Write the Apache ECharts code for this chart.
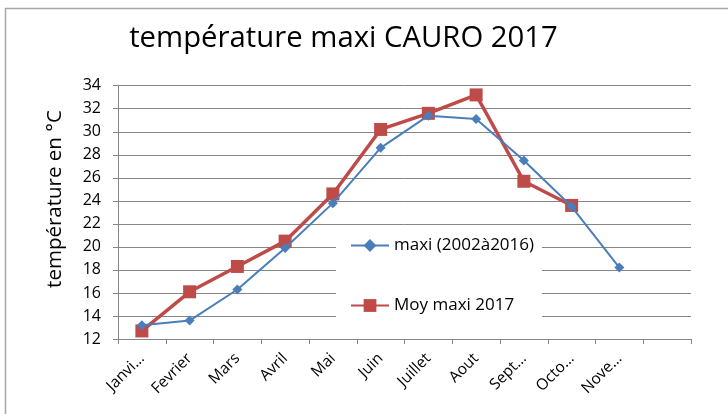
<!DOCTYPE html>
<html>
<head>
<meta charset="utf-8">
<script src="https://cdn.jsdelivr.net/npm/echarts@6/dist/echarts.min.js"></script>
<style>html,body{margin:0;padding:0;background:#fff}#c{width:728px;height:414px}</style>
</head>
<body>
<div id="c"></div>
<script>
var categories = ['Janvi\u2026','Fevrier','Mars','Avril','Mai','Juin','Juillet','Aout','Sept\u2026','Octo\u2026','Nove\u2026',''];
var maxiHist = [13.2, 13.6, 16.3, 19.9, 23.8, 28.6, 31.4, 31.1, 27.5, 23.5, 18.2, null];
var moy2017 = [12.7, 16.1, 18.3, 20.5, 24.6, 30.2, 31.6, 33.2, 25.7, 23.6, null, null];
var yTicks = {min: 12, max: 34, interval: 2};
var seriesNames = ['maxi (2002\u00e02016)', 'Moy maxi 2017'];
var titleText = 'temp\u00e9rature maxi CAURO 2017';
var yName = 'temp\u00e9rature en \u00b0C';

var FONT = '"Open Sans"';
var chart = echarts.init(document.getElementById('c'));
chart.setOption({
  animation: false,
  backgroundColor: '#fff',
  textStyle: {fontFamily: FONT},
  grid: {left: 118, right: 37, top: 85.7, bottom: 75, containLabel: false},
  xAxis: {
    type: 'category',
    data: categories,
    boundaryGap: true,
    axisLine: {lineStyle: {color: '#868686', width: 1}},
    axisTick: {show: true, length: 5, alignWithLabel: false, lineStyle: {color: '#868686'}},
    axisLabel: {rotate: 45, interval: 0, color: '#000', fontSize: 15.5, fontFamily: FONT, margin: 17}
  },
  yAxis: {
    type: 'value',
    min: yTicks.min, max: yTicks.max, interval: yTicks.interval,
    axisLine: {show: true, lineStyle: {color: '#868686', width: 1}},
    axisTick: {show: true, length: 5, lineStyle: {color: '#868686'}},
    axisLabel: {color: '#000', fontSize: 16, fontFamily: FONT, margin: 17},
    splitLine: {show: true, lineStyle: {color: '#868686', width: 1}}
  },
  legend: {
    orient: 'vertical',
    left: 336, top: 231,
    padding: [6, 8, 18, 14],
    itemGap: 43,
    itemWidth: 38, itemHeight: 16,
    backgroundColor: '#fff',
    textStyle: {color: '#000', fontSize: 17, fontFamily: FONT},
    data: seriesNames
  },
  series: [
    {
      name: seriesNames[0], type: 'line', data: maxiHist,
      symbol: 'diamond', symbolSize: 10,
      lineStyle: {color: '#4A7EBB', width: 2},
      itemStyle: {color: '#4A7EBB'},
      z: 3
    },
    {
      name: seriesNames[1], type: 'line', data: moy2017,
      symbol: 'rect', symbolSize: 13,
      lineStyle: {color: '#BE4B48', width: 3.5},
      itemStyle: {color: '#BE4B48'},
      z: 2
    }
  ],
  graphic: [
    {type: 'text', x: 343.5, y: 24, style: {text: titleText, font: '29.3px ' + FONT, fill: '#000', align: 'center', verticalAlign: 'top'}},
    {type: 'text', x: 55, y: 199, rotation: Math.PI / 2, style: {text: yName, font: '20.5px ' + FONT, fill: '#000', align: 'center', verticalAlign: 'middle'}},
    {type: 'polyline', shape: {points: [[5.5, 414], [5.5, 8.5], [728, 8.5]]}, style: {stroke: '#a6a6a6', lineWidth: 1.5, fill: null}}
  ]
});
</script>
</body>
</html>
